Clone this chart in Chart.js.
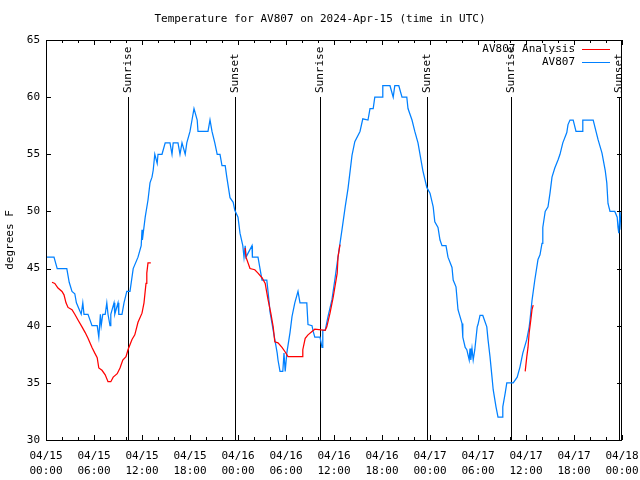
<!DOCTYPE html>
<html>
<head>
<meta charset="utf-8">
<script src="https://cdn.jsdelivr.net/npm/chart.js@4/dist/chart.umd.min.js"></script>
<style>
  body { margin: 0; background: #fff; }
  #tempChart { display: block; }
</style>
</head>
<body>
<canvas id="tempChart" width="640" height="480"></canvas>
<script>
// hours since 04/15 00:00 UTC
const stationHours = [0.1, 1.0, 1.4, 2.6, 2.9, 3.25, 3.6, 3.8, 4.4, 4.6, 4.75, 5.25, 5.75, 6.4, 6.6, 6.8, 6.9, 7.1, 7.4, 7.6, 7.75, 8.0, 8.1, 8.5, 8.6, 9.0, 9.1, 9.5, 9.75, 10.1, 10.5, 10.9, 11.5, 11.9, 12.0, 12.05, 12.4, 12.75, 13.0, 13.25, 13.4, 13.6, 13.9, 14.0, 14.5, 14.9, 15.5, 15.75, 15.9, 16.5, 16.75, 17.0, 17.4, 17.6, 18.0, 18.25, 18.5, 18.9, 19.0, 20.25, 20.5, 20.75, 21.1, 21.4, 21.75, 22.0, 22.4, 22.6, 23.0, 23.4, 23.6, 24.0, 24.25, 24.6, 24.75, 24.9, 25.0, 25.75, 25.8, 26.5, 26.75, 27.0, 27.6, 27.75, 27.9, 28.0, 28.25, 28.4, 28.6, 28.9, 29.0, 29.25, 29.6, 29.75, 29.9, 30.1, 30.5, 30.75, 31.1, 31.5, 31.75, 32.6, 32.75, 33.25, 33.4, 33.6, 34.25, 34.5, 34.6, 34.9, 35.25, 35.75, 36.1, 36.5, 37.0, 37.4, 37.75, 38.25, 38.6, 39.25, 39.6, 40.25, 40.5, 40.9, 41.1, 42.0, 42.1, 43.0, 43.4, 43.6, 44.1, 44.5, 45.1, 45.25, 45.75, 46.1, 46.5, 46.75, 47.1, 47.6, 48.0, 48.4, 48.6, 49.0, 49.25, 49.5, 50.0, 50.25, 50.75, 50.9, 51.25, 51.5, 52.0, 52.1, 52.4, 52.6, 52.9, 53.0, 53.1, 53.25, 53.4, 53.6, 53.9, 54.0, 54.25, 54.6, 55.1, 55.25, 55.5, 55.75, 55.9, 56.25, 56.5, 57.0, 57.1, 57.4, 57.6, 58.4, 58.9, 59.25, 59.6, 60.1, 60.4, 60.5, 60.75, 61.1, 61.5, 61.75, 62.0, 62.1, 62.4, 62.75, 63.0, 63.25, 63.6, 64.0, 64.25, 64.6, 65.1, 65.25, 65.5, 65.9, 66.25, 67.0, 67.1, 68.4, 68.75, 69.0, 69.5, 69.9, 70.1, 70.25, 70.5, 71.1, 71.4, 71.5, 71.6, 71.75, 71.9];
const stationTemps = [46, 46, 45, 45, 43.8, 43, 42.8, 42, 41, 42, 41, 41, 40, 40, 39, 41, 40, 41, 41, 42, 41, 40, 41, 42, 41, 42, 41, 41, 42, 43, 43, 45, 46, 47, 48.4, 47.5, 49.5, 51, 52.5, 53, 53.6, 55, 54.2, 55, 55, 56, 56, 55, 56, 56, 55, 56, 55, 56, 57, 58, 59, 58, 57, 57, 58, 57, 56, 55, 55, 54, 54, 53, 51.2, 50.8, 50.1, 49.5, 48.1, 47, 46, 47, 46, 47, 46, 46, 45, 44, 44, 43, 42, 41.2, 40.2, 39.6, 38.8, 37.6, 37, 36, 36, 37.6, 36, 37.6, 39.4, 40.8, 42, 43, 42, 42, 40.1, 40, 39.5, 39, 39, 38.1, 39.6, 39.6, 40.8, 42.3, 44, 46, 48.4, 50.4, 52, 54.9, 56.1, 57, 58.1, 58, 59, 59, 60, 60, 61, 61, 60, 61, 61, 60, 60, 59, 58, 57, 56, 55, 53.6, 52.1, 51.6, 50.4, 49.1, 48.6, 47.5, 47, 47, 46, 45.1, 44, 43.4, 41.4, 40.2, 39, 38.1, 37.9, 37, 38, 37, 38, 37, 37.9, 39.9, 40.1, 40.9, 40.9, 39.9, 38.8, 37.3, 35.5, 34.4, 32.9, 32, 32, 32.9, 34.1, 35, 35, 35.5, 36.4, 37.6, 38.8, 39.9, 40.5, 42.2, 44, 45.8, 46.2, 47.2, 48.6, 50, 50.4, 51.6, 53, 53.8, 54.5, 55, 56, 56.9, 57.6, 58, 58, 57, 57, 58, 58, 57, 56.3, 55.1, 53.6, 52.5, 50.7, 50, 50, 49.5, 48.6, 48.1, 50, 48.4];

const analysisHours = [0.75, 1.1, 1.5, 2.0, 2.25, 2.5, 2.75, 3.25, 3.6, 4.0, 4.5, 4.9, 5.25, 5.75, 6.1, 6.4, 6.6, 7.0, 7.4, 7.75, 8.1, 8.4, 8.9, 9.25, 9.6, 10.0, 10.25, 10.75, 11.1, 11.5, 12.0, 12.25, 12.5, 12.6, 12.75, 13.1, 13.2,
  24.9, 25.0, 25.5, 26.1, 26.5, 27.0, 27.4, 27.6, 27.75, 28.1, 28.4, 28.6, 29.0, 29.5, 29.9, 30.25, 32.0, 32.1, 32.4, 32.75, 33.25, 33.6, 34.9, 35.1, 35.5, 35.9, 36.4, 36.5, 36.75, 36.9,
  59.9, 60.1, 60.25, 60.4, 60.6, 60.75, 60.9];
const analysisTemps = [43.8, 43.7, 43.3, 43.0, 42.7, 42.0, 41.6, 41.4, 41.0, 40.5, 39.9, 39.4, 38.9, 38.1, 37.6, 37.2, 36.3, 36.1, 35.7, 35.1, 35.1, 35.5, 35.8, 36.3, 37.0, 37.3, 37.9, 38.8, 39.2, 40.3, 41.1, 42.0, 43.7, 44.6, 45.5, 45.5, null,
  46.8, 46.0, 45.0, 44.9, 44.6, 44.2, 43.7, 42.9, 42.3, 41.1, 39.9, 38.6, 38.5, 38.1, 37.7, 37.3, 37.3, 37.9, 38.9, 39.2, 39.5, 39.7, 39.6, 39.9, 41.1, 42.5, 44.6, 46.0, 47.1, null,
  36.0, 37.3, 38.1, 39.4, 40.5, 41.4, 41.8];

const sunHours = [10.25, 23.625, 34.25, 47.625, 58.125, 71.625];
const sunLabels = ['Sunrise', 'Sunset', 'Sunrise', 'Sunset', 'Sunrise', 'Sunset'];

const tempTicks = [30, 35, 40, 45, 50, 55, 60, 65];
const hourTicks = [0, 6, 12, 18, 24, 30, 36, 42, 48, 54, 60, 66, 72];

const FONT = "'DejaVu Sans Mono', monospace";

function pad2(n) { return (n < 10 ? '0' : '') + n; }

// gnuplot-like frame, inward ticks, sun lines, legend and title
const gnuFrame = {
  id: 'gnuFrame',
  beforeDatasetsDraw(chart) {
    const ctx = chart.ctx, a = chart.chartArea, xs = chart.scales.x;
    ctx.save();
    ctx.strokeStyle = '#000';
    ctx.lineWidth = 1;
    ctx.fillStyle = '#000';
    ctx.font = '11px ' + FONT;
    sunHours.forEach((h, i) => {
      const px = Math.round(xs.getPixelForValue(h)) + 0.5;
      ctx.beginPath();
      ctx.moveTo(px, 97);
      ctx.lineTo(px, a.bottom);
      ctx.stroke();
      ctx.save();
      ctx.translate(px, 93);
      ctx.rotate(-Math.PI / 2);
      ctx.textAlign = 'left';
      ctx.textBaseline = 'middle';
      ctx.fillText(sunLabels[i], 0, 0);
      ctx.restore();
    });
    ctx.restore();
  },
  afterDraw(chart) {
    const ctx = chart.ctx, a = chart.chartArea;
    const xs = chart.scales.x, ys = chart.scales.y;
    ctx.save();
    ctx.strokeStyle = '#000';
    ctx.lineWidth = 1;
    ctx.beginPath();
    ctx.rect(Math.round(a.left) + 0.5, Math.round(a.top) + 0.5, Math.round(a.right - a.left) - 1, Math.round(a.bottom - a.top));
    ctx.stroke();
    ctx.beginPath();
    for (let h = 0; h <= 72; h += 2) {
      const px = Math.round(xs.getPixelForValue(h)) + 0.5;
      const len = h % 6 === 0 ? 5 : 3;
      ctx.moveTo(px, a.bottom); ctx.lineTo(px, a.bottom - len);
      ctx.moveTo(px, a.top); ctx.lineTo(px, a.top + len);
    }
    tempTicks.forEach(t => {
      const py = Math.round(ys.getPixelForValue(t)) + 0.5;
      ctx.moveTo(a.left, py); ctx.lineTo(a.left + 5, py);
      ctx.moveTo(a.right, py); ctx.lineTo(a.right - 5, py);
    });
    ctx.stroke();

    // title
    ctx.fillStyle = '#000';
    ctx.font = '11px ' + FONT;
    ctx.textAlign = 'center';
    ctx.textBaseline = 'middle';
    ctx.fillText('Temperature for AV807 on 2024-Apr-15 (time in UTC)', 320, 19);

    // legend
    ctx.textAlign = 'right';
    chart.data.datasets.forEach((ds, i) => {
      const y = 49 + i * 13;
      ctx.fillStyle = '#000';
      ctx.fillText(ds.label, 575, y);
      ctx.strokeStyle = ds.borderColor;
      ctx.beginPath();
      ctx.moveTo(582, y + 0.5);
      ctx.lineTo(610, y + 0.5);
      ctx.stroke();
    });
    ctx.restore();
  }
};

new Chart(document.getElementById('tempChart').getContext('2d'), {
  type: 'line',
  data: {
    datasets: [{
      label: 'AV807 Analysis',
      data: analysisHours.map((h, i) => ({ x: h, y: analysisTemps[i] })),
      borderColor: '#ff0000',
      borderWidth: 1.25,
      pointRadius: 0,
      spanGaps: false,
      tension: 0
    },
    {
      label: 'AV807',
      data: stationHours.map((h, i) => ({ x: h, y: stationTemps[i] })),
      borderColor: '#0080ff',
      borderWidth: 1.25,
      pointRadius: 0,
      tension: 0
    }]
  },
  options: {
    responsive: false,
    animation: false,
    layout: { padding: { top: 40, right: 18, left: 0, bottom: 0 } },
    plugins: {
      legend: { display: false },
      title: { display: false },
      tooltip: { enabled: false }
    },
    scales: {
      x: {
        type: 'linear',
        min: 0,
        max: 72,
        afterBuildTicks: (s) => { s.ticks = hourTicks.map(v => ({ value: v })); },
        afterFit: (s) => { s.height = 40; s.paddingLeft = 0; s.paddingRight = 0; },
        grid: { display: false, drawTicks: false },
        border: { display: false },
        ticks: {
          autoSkip: false,
          maxRotation: 0,
          padding: 9,
          color: '#000',
          font: { family: FONT, size: 11, lineHeight: 1.35 },
          callback: (v) => ['04/' + (15 + Math.floor(v / 24)), pad2(v % 24) + ':00']
        }
      },
      y: {
        min: 30,
        max: 65,
        afterBuildTicks: (s) => { s.ticks = tempTicks.map(v => ({ value: v })); },
        afterFit: (s) => { s.width = 46; s.paddingTop = 0; s.paddingBottom = 0; },
        grid: { display: false, drawTicks: false },
        border: { display: false },
        title: {
          display: true,
          text: 'degrees F',
          color: '#000',
          font: { family: FONT, size: 11 },
          padding: { top: 4, bottom: 0 }
        },
        ticks: {
          padding: 6,
          color: '#000',
          font: { family: FONT, size: 11 }
        }
      }
    }
  },
  plugins: [gnuFrame]
});
</script>
</body>
</html>
